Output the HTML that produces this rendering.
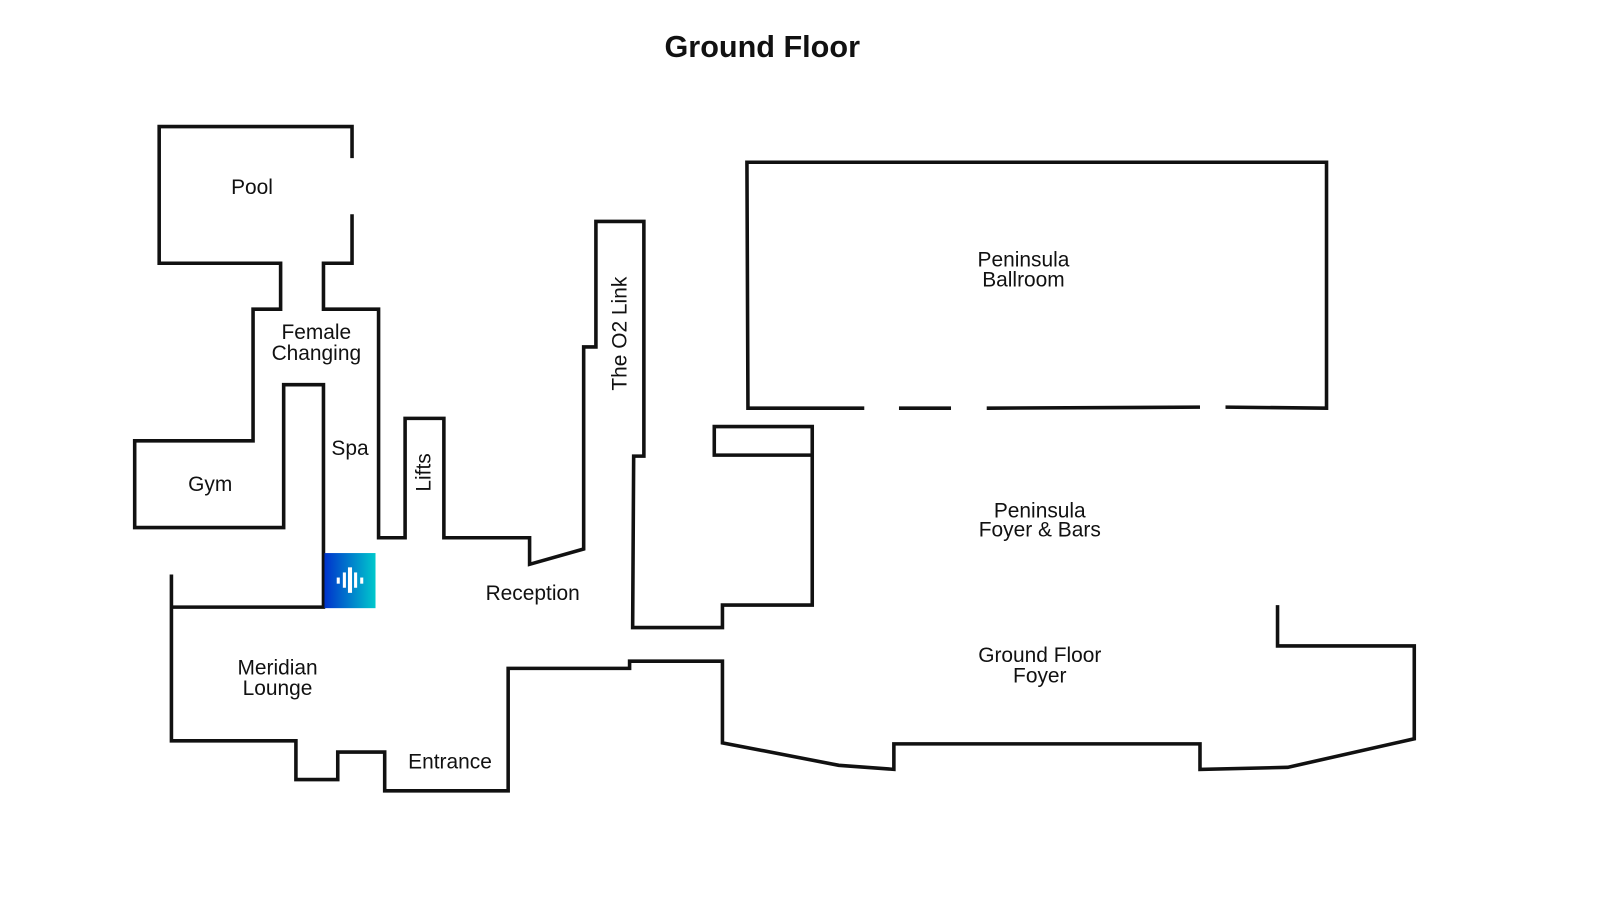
<!DOCTYPE html>
<html><head><style>
html,body{margin:0;padding:0;background:#fff;width:1600px;height:900px;overflow:hidden}
svg text{font-family:"Liberation Sans",sans-serif;fill:#111}
</style></head><body>
<svg width="1600" height="900" viewBox="0 0 1600 900" xmlns="http://www.w3.org/2000/svg">
<defs><linearGradient id="g" x1="0" x2="1" y1="0" y2="0"><stop offset="0" stop-color="#0033cc"/><stop offset="1" stop-color="#00c8cc"/></linearGradient></defs>
<g transform="scale(1.0204)">
<text x="747" y="56" text-anchor="middle" font-size="30" font-weight="bold" fill="#000">Ground Floor</text>
<g fill="none" stroke="#111" stroke-width="3.5" stroke-linejoin="miter">
<polyline points="345,155 345,124 156,124 156,258 275,258 275,303 248,303 248,432 132,432 132,517 278,517 278,377 317,377 317,595 168,595"/>
<polyline points="168,563 168,726 290,726 290,764 331,764 331,737 377,737 377,775 498,775 498,655 617,655 617,648 708,648 708,728 822,750 876,754 876,729 1176,729 1176,754 1262,752 1386,724 1386,633 1252,633 1252,593"/>
<polyline points="345,210 345,258 317,258 317,303 371,303 371,527 397,527 397,410 435,410 435,527 519,527 519,553 572,538 572,340 584,340 584,217 631,217 631,447 621,447 620,615 708,615 708,593 796,593 796,418 700,418 700,446 796,446"/>
<polyline points="847,400 733,400 732,159 1300,159 1300,400 1201,399"/>
<line x1="881" y1="400" x2="932" y2="400"/>
<line x1="967" y1="400" x2="1176" y2="399"/>
</g>
<rect x="318" y="542" width="50" height="54" fill="url(#g)"/>
<g fill="#fff">
<rect x="330" y="566" width="3" height="6"/><rect x="336" y="561" width="3" height="15"/><rect x="341" y="556" width="4" height="25"/><rect x="347" y="561" width="3" height="15"/><rect x="353" y="566" width="3" height="6"/>
</g>
<g font-size="20.5">
<text x="247" y="190" text-anchor="middle">Pool</text>
<text x="310" y="332" text-anchor="middle">Female</text>
<text x="310" y="353" text-anchor="middle">Changing</text>
<text x="343" y="446" text-anchor="middle">Spa</text>
<text x="206" y="481" text-anchor="middle">Gym</text>
<text x="522" y="588" text-anchor="middle">Reception</text>
<text x="272" y="661" text-anchor="middle">Meridian</text>
<text x="272" y="681" text-anchor="middle">Lounge</text>
<text x="441" y="753" text-anchor="middle">Entrance</text>
<text x="1003" y="261" text-anchor="middle">Peninsula</text>
<text x="1003" y="281" text-anchor="middle">Ballroom</text>
<text x="1019" y="507" text-anchor="middle">Peninsula</text>
<text x="1019" y="526" text-anchor="middle">Foyer &amp; Bars</text>
<text x="1019" y="649" text-anchor="middle">Ground Floor</text>
<text x="1019" y="669" text-anchor="middle">Foyer</text>
<text transform="translate(422,463) rotate(-90)" text-anchor="middle">Lifts</text>
<text transform="translate(614,327) rotate(-90)" text-anchor="middle">The O2 Link</text>
</g>
</g>
</svg>
</body></html>
